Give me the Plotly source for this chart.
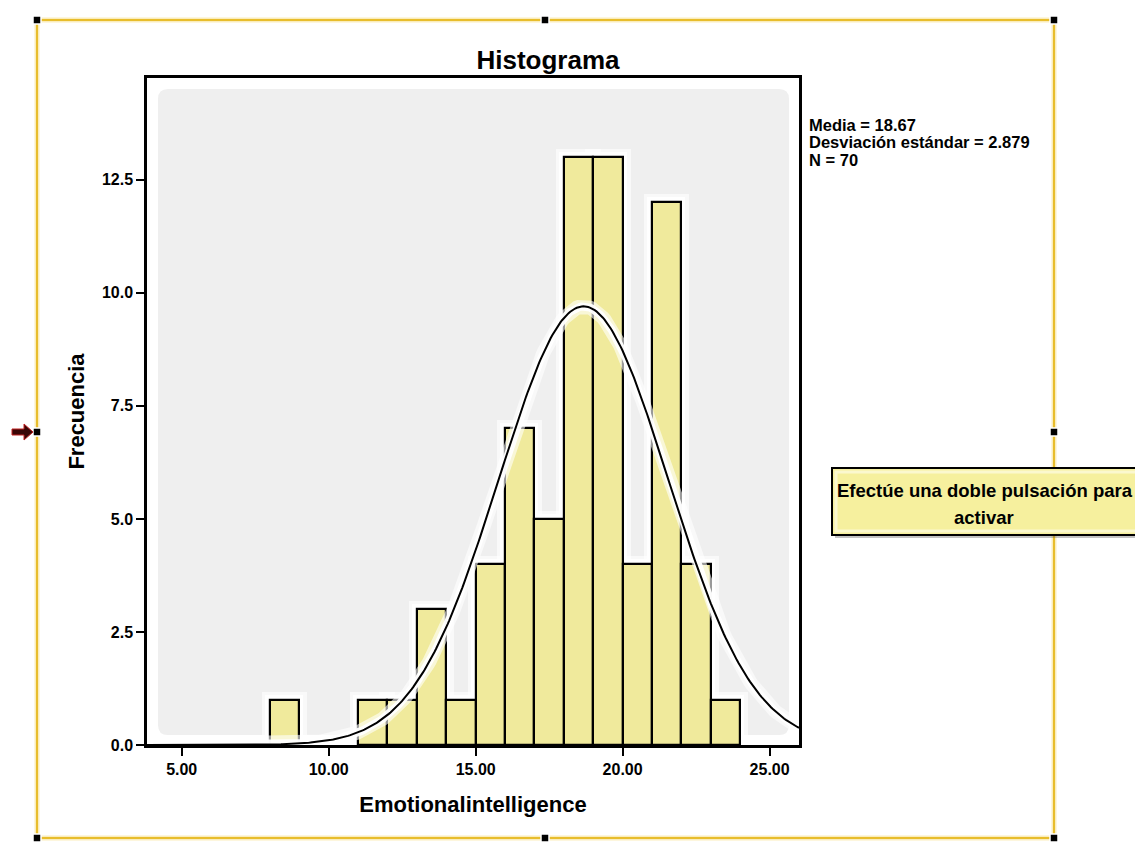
import numpy as np
import plotly.graph_objects as go

# Histogram of Emotionalintelligence (bin width 1)
bin_centers = [8.5, 11.5, 12.5, 13.5, 14.5, 15.5, 16.5, 17.5, 18.5, 19.5, 20.5, 21.5, 22.5, 23.5]
frequencies = [1, 1, 1, 3, 1, 4, 7, 5, 13, 13, 4, 12, 4, 1]
bin_width = 1.0

# Summary statistics shown in the legend box
mean_value = 18.67
std_value = 2.879
n_value = 70

x_ticks = [5, 10, 15, 20, 25]
y_ticks = [0, 2.5, 5, 7.5, 10, 12.5]
x_range = [3.82, 26.0]
y_range = [0, 14.75]

W, H = 1135, 842
PL, PR, PT, PB = 147, 799, 78, 745  # plot area in pixels
FONT = "Liberation Sans"


def px(xp):
    return (xp - PL) / (PR - PL)


def py(yp):
    return (PB - yp) / (PB - PT)


# Normal curve scaled to the histogram counts
curve_x = np.linspace(x_range[0], x_range[1], 400)
curve_y = n_value * bin_width / (std_value * np.sqrt(2 * np.pi)) * np.exp(
    -0.5 * ((curve_x - mean_value) / std_value) ** 2)

fig = go.Figure()

# soft white halo behind bars
fig.add_trace(go.Bar(
    x=bin_centers, y=frequencies, width=bin_width,
    marker=dict(color="white", line=dict(color="rgba(255,255,255,0.6)", width=16)),
    hoverinfo="skip", showlegend=False,
))
fig.add_trace(go.Bar(
    x=bin_centers, y=frequencies, width=bin_width,
    marker=dict(color="white", line=dict(color="rgba(255,255,255,0.95)", width=9)),
    hoverinfo="skip", showlegend=False,
))
fig.add_trace(go.Bar(
    x=bin_centers, y=frequencies, width=bin_width,
    marker=dict(color="#f0ea9c", line=dict(color="black", width=2.2)),
    showlegend=False, name="Frecuencia",
))
# halo and line of the normal curve
fig.add_trace(go.Scatter(
    x=curve_x, y=curve_y, mode="lines",
    line=dict(color="rgba(255,255,255,0.6)", width=14),
    hoverinfo="skip", showlegend=False,
))
fig.add_trace(go.Scatter(
    x=curve_x, y=curve_y, mode="lines",
    line=dict(color="rgba(255,255,255,0.95)", width=8),
    hoverinfo="skip", showlegend=False,
))
fig.add_trace(go.Scatter(
    x=curve_x, y=curve_y, mode="lines",
    line=dict(color="black", width=2),
    showlegend=False, name="Normal",
))

shapes = []

# light grey inner panel with rounded corners
gx0, gx1 = px(PL + 11), px(PR - 10)
gy0, gy1 = py(PB - 10), py(PT + 11)
rx, ry = 10 / (PR - PL), 10 / (PB - PT)
panel = (f"M {gx0 + rx},{gy1} L {gx1 - rx},{gy1} Q {gx1},{gy1} {gx1},{gy1 - ry} "
         f"L {gx1},{gy0 + ry} Q {gx1},{gy0} {gx1 - rx},{gy0} "
         f"L {gx0 + rx},{gy0} Q {gx0},{gy0} {gx0},{gy0 + ry} "
         f"L {gx0},{gy1 - ry} Q {gx0},{gy1} {gx0 + rx},{gy1} Z")
shapes.append(dict(type="path", path=panel, xref="paper", yref="paper",
                   fillcolor="#efefef", line=dict(width=0), layer="below"))

# gold selection frame around the chart object
FL, FR, FT, FB = 37, 1054, 20, 838
gold = "#e8bd2c"
glow = "rgba(240,200,60,0.35)"
for (x0, y0, x1, y1) in [(FL, FT, FR, FT), (FL, FB, FR, FB), (FL, FT, FL, FB), (FR, FT, FR, FB)]:
    shapes.append(dict(type="line", xref="paper", yref="paper",
                       x0=px(x0), y0=py(y0), x1=px(x1), y1=py(y1),
                       line=dict(color=glow, width=5), layer="above"))
    shapes.append(dict(type="line", xref="paper", yref="paper",
                       x0=px(x0), y0=py(y0), x1=px(x1), y1=py(y1),
                       line=dict(color=gold, width=2), layer="above"))

# black sizing handles
handles = [(FL, FT), (545, FT), (FR, FT), (FL, 432), (FR, 432), (FL, FB), (545, FB), (FR, FB)]
for (hx, hy) in handles:
    shapes.append(dict(type="rect", xref="paper", yref="paper",
                       x0=px(hx - 4), x1=px(hx + 4), y0=py(hy + 4), y1=py(hy - 4),
                       fillcolor="black", line=dict(color="white", width=1.5), layer="above"))

# arrow marker on the left edge
arrow = [(12, 429), (24, 429), (24, 424), (33, 432), (24, 440), (24, 435), (12, 435)]
arrow_path = "M " + " L ".join(f"{px(a)},{py(b)}" for a, b in arrow) + " Z"
shapes.append(dict(type="path", path=arrow_path, xref="paper", yref="paper",
                   fillcolor="#3a0606", line=dict(color="#c02020", width=1), layer="above"))

# tooltip box (runs past the right edge of the page)
shapes.append(dict(type="rect", xref="paper", yref="paper",
                   x0=px(835), x1=px(1160), y0=py(538), y1=py(471),
                   fillcolor="rgba(80,80,80,0.35)", line=dict(width=0), layer="above"))
shapes.append(dict(type="rect", xref="paper", yref="paper",
                   x0=px(832), x1=px(1158), y0=py(535), y1=py(468),
                   fillcolor="#f6f09e", line=dict(color="black", width=2), layer="above"))
shapes.append(dict(type="rect", xref="paper", yref="paper",
                   x0=px(836), x1=px(1158), y0=py(531), y1=py(472),
                   fillcolor="rgba(255,255,220,0)", line=dict(color="#fbf8cf", width=3), layer="above"))

annotations = []
stat_lines = [
    f"Media = {mean_value:.2f}",
    f"Desviación estándar = {std_value:.3f}",
    f"N = {n_value}",
]
for i, txt in enumerate(stat_lines):
    annotations.append(dict(
        text=f"<b>{txt}</b>", xref="paper", yref="paper", x=px(807), y=py(125 + 17.5 * i),
        xanchor="left", yanchor="middle", showarrow=False,
        font=dict(family=FONT, size=16.5, color="black"),
    ))

annotations.append(dict(
    text="<b>Efectúe una doble pulsación para</b>", xref="paper", yref="paper",
    x=px(985), y=py(491), xanchor="center", yanchor="middle", showarrow=False,
    font=dict(family=FONT, size=18.5, color="black"),
))
annotations.append(dict(
    text="<b>activar</b>", xref="paper", yref="paper",
    x=px(984), y=py(517), xanchor="center", yanchor="middle", showarrow=False,
    font=dict(family=FONT, size=18.5, color="black"),
))

fig.update_layout(
    width=W, height=H,
    margin=dict(l=PL, r=W - PR, t=PT, b=H - PB, pad=0),
    paper_bgcolor="white", plot_bgcolor="white",
    barmode="overlay", bargap=0,
    title=dict(text="<b>Histograma</b>", x=548 / W, y=1 - 60 / H,
               xref="container", yref="container", xanchor="center", yanchor="middle",
               font=dict(family=FONT, size=26, color="black")),
    xaxis=dict(
        range=x_range, tickvals=x_ticks, ticktext=[f"<b>{v:.2f}</b>" for v in x_ticks],
        ticks="outside", ticklen=8, tickwidth=2, tickcolor="black",
        showline=True, linecolor="black", linewidth=2.5, mirror=True,
        showgrid=False, zeroline=False,
        tickfont=dict(family=FONT, size=16, color="black"),
        title=dict(text="<b>Emotionalintelligence</b>", standoff=20,
                   font=dict(family=FONT, size=22, color="black")),
    ),
    yaxis=dict(
        range=y_range, tickvals=y_ticks, ticktext=[f"<b>{v:.1f}</b>" for v in y_ticks],
        ticks="outside", ticklen=8, tickwidth=2, tickcolor="black",
        showline=True, linecolor="black", linewidth=2.5, mirror=True,
        showgrid=False, zeroline=False,
        tickfont=dict(family=FONT, size=16, color="black"),
        title=dict(text="<b>Frecuencia</b>", standoff=12,
                   font=dict(family=FONT, size=22, color="black")),
    ),
    shapes=shapes,
    annotations=annotations,
)

fig.write_html("out.html")
